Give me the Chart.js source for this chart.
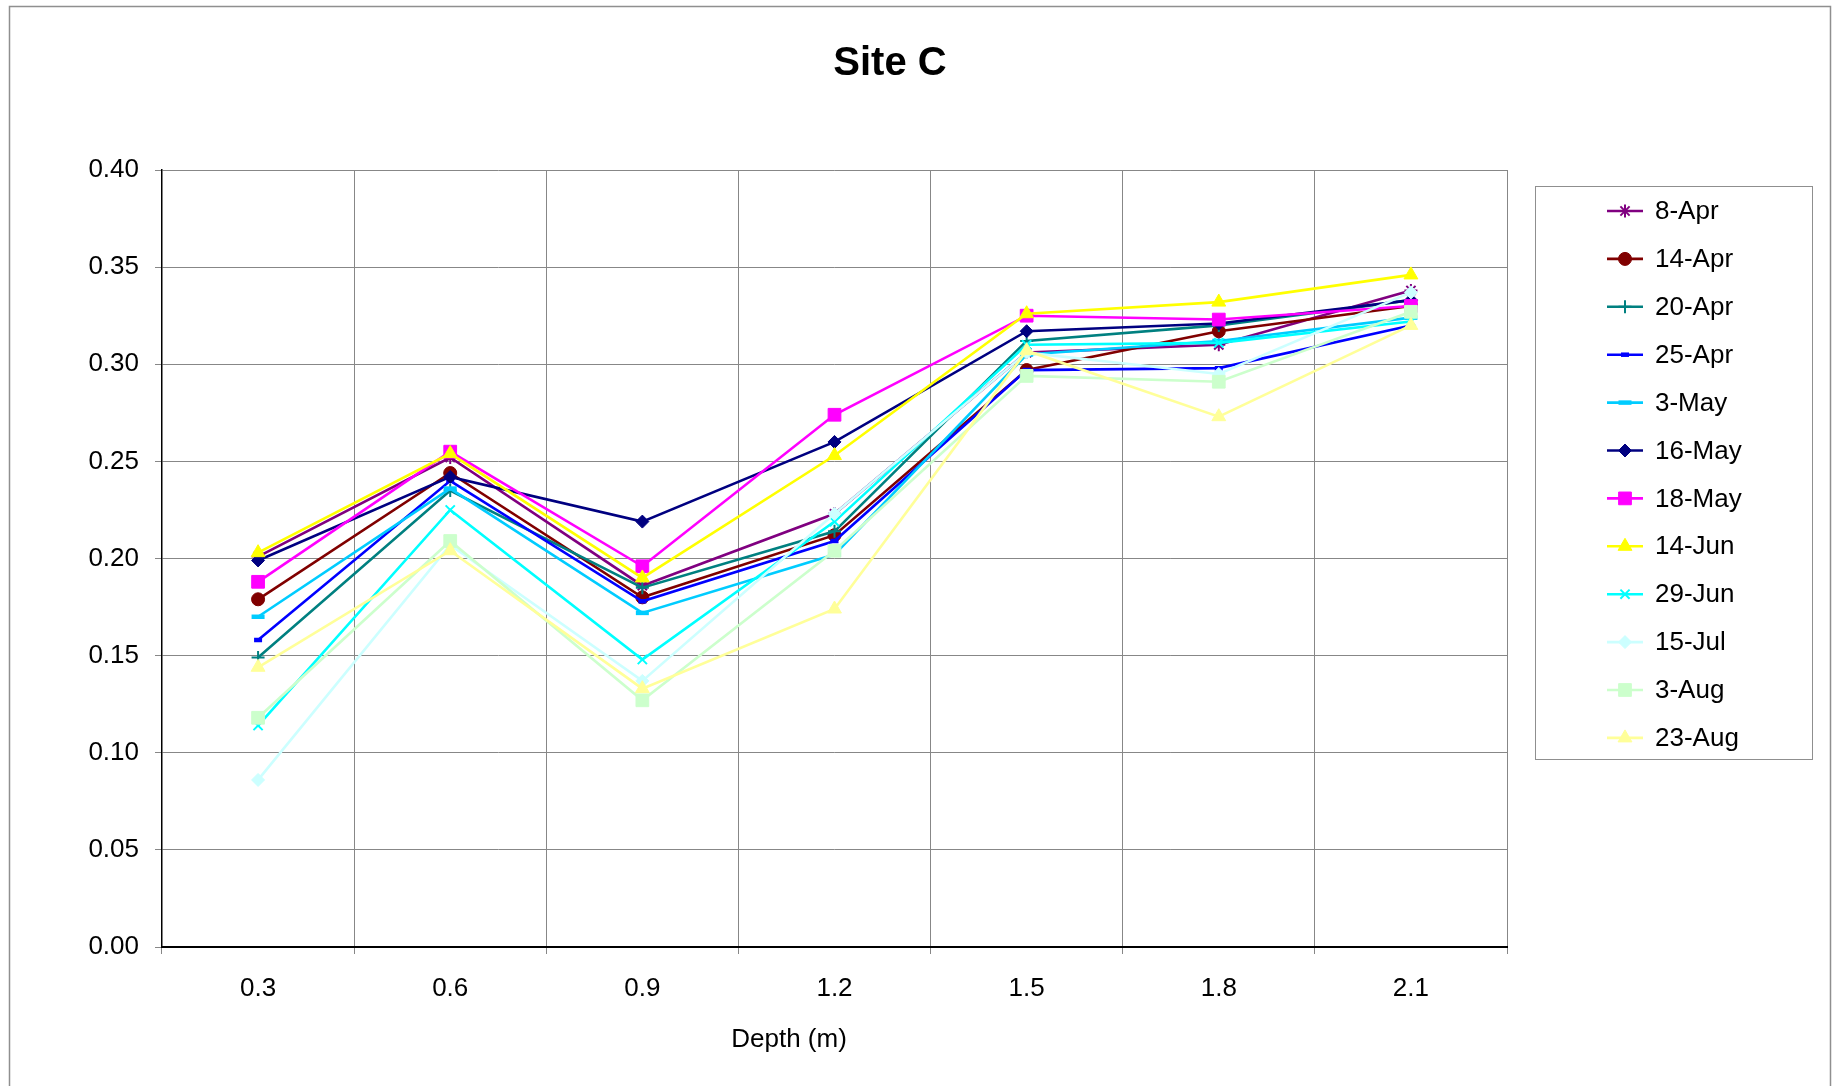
<!DOCTYPE html>
<html>
<head>
<meta charset="utf-8">
<title>Site C</title>
<script src="https://cdn.jsdelivr.net/npm/chart.js@4/dist/chart.umd.min.js"></script>
<style>
html, body { margin: 0; padding: 0; background: #fff; overflow: hidden; }
#wrap { width: 1843px; height: 1086px; position: relative; }
</style>
</head>
<body>
<div id="wrap"><canvas id="chart"></canvas></div>
<script>
const depths = ["0.3", "0.6", "0.9", "1.2", "1.5", "1.8", "2.1"];
const dates = ["8-Apr", "14-Apr", "20-Apr", "25-Apr", "3-May", "16-May",
	"18-May", "14-Jun", "29-Jun", "15-Jul", "3-Aug", "23-Aug"];

// moisture readings per sampling date, one value per depth
const apr8 = [0.201, 0.252, 0.186, 0.223, 0.306, 0.310, 0.338];
const apr14 = [0.179, 0.244, 0.180, 0.212, 0.297, 0.317, 0.330];
const apr20 = [0.149, 0.235, 0.185, 0.214, 0.312, 0.320, 0.333];
const apr25 = [0.158, 0.240, 0.178, 0.209, 0.297, 0.298, 0.320];
const may3 = [0.170, 0.236, 0.172, 0.202, 0.305, 0.312, 0.324];
const may16 = [0.199, 0.242, 0.219, 0.260, 0.317, 0.321, 0.333];
const may18 = [0.188, 0.255, 0.196, 0.274, 0.325, 0.323, 0.330];
const jun14 = [0.203, 0.254, 0.190, 0.253, 0.326, 0.332, 0.346];
const jun29 = [0.114, 0.225, 0.148, 0.219, 0.310, 0.311, 0.322];
const jul15 = [0.086, 0.207, 0.137, 0.223, 0.306, 0.295, 0.337];
const aug3 = [0.118, 0.209, 0.127, 0.204, 0.294, 0.291, 0.327];
const aug23 = [0.144, 0.204, 0.133, 0.174, 0.307, 0.273, 0.320];

const yMin = 0;
const yMax = 0.4;
const yStep = 0.05;

const series = [apr8, apr14, apr20, apr25, may3, may16, may18, jun14, jun29, jul15, aug3, aug23];
const colors = ["#800080", "#800000", "#008080", "#0000ff", "#00ccff", "#000080",
	"#ff00ff", "#ffff00", "#00ffff", "#ccffff", "#ccffcc", "#ffff99"];
const markers = ["star", "circle", "cross", "line", "line", "rectRot",
	"rect", "triangle", "crossRot", "rectRot", "rect", "triangle"];
const markerSize = [6.5, 6.5, 6.5, 4, 6.5, 6.5, 9, 8, 6.5, 6.5, 9, 8];
const markerBorder = [2, 1, 2, 4.5, 4.5, 1, 1, 1, 2, 1, 1, 1];

const FONT = "'Liberation Sans', Arial, sans-serif";
const gridGray = "#878787";

const datasets = series.map((values, i) => ({
	label: dates[i],
	data: values,
	borderColor: colors[i],
	backgroundColor: colors[i],
	borderWidth: 2.6,
	pointStyle: markers[i],
	pointRadius: markerSize[i],
	pointBorderWidth: markerBorder[i],
	pointBackgroundColor: colors[i],
	pointBorderColor: colors[i],
	tension: 0,
	fill: false,
	order: -i,
}));

// frame, title, axis title and the boxed legend on the right
const decor = {
	id: "decor",
	beforeDraw(chart) {
		const ctx = chart.ctx;
		ctx.save();
		ctx.fillStyle = "#fff";
		ctx.fillRect(0, 0, chart.width, chart.height);
		ctx.strokeStyle = "#8f8f8f";
		ctx.lineWidth = 1.5;
		ctx.strokeRect(9.5, 6.5, 1821, 1200);
		ctx.restore();
	},
	afterDraw(chart) {
		const ctx = chart.ctx;
		ctx.save();
		ctx.fillStyle = "#000";
		ctx.textAlign = "center";
		ctx.textBaseline = "middle";
		ctx.font = "bold 40px " + FONT;
		ctx.fillText("Site C", 890, 64);
		ctx.font = "26px " + FONT;
		ctx.fillText("Depth (m)", 789, 1040);

		ctx.strokeStyle = "#8f8f8f";
		ctx.lineWidth = 1;
		ctx.strokeRect(1535.5, 186.5, 277, 573);

		ctx.textAlign = "left";
		chart.data.datasets.forEach((ds, i) => {
			const y = 211 + i * 47.9;
			ctx.strokeStyle = ds.borderColor;
			ctx.lineWidth = 2.6;
			ctx.beginPath();
			ctx.moveTo(1607, y);
			ctx.lineTo(1643, y);
			ctx.stroke();
			ctx.fillStyle = ds.pointBackgroundColor;
			ctx.lineWidth = ds.pointBorderWidth;
			Chart.helpers.drawPoint(ctx, {
				pointStyle: ds.pointStyle,
				radius: ds.pointRadius,
				rotation: 0,
				borderWidth: ds.pointBorderWidth,
			}, 1625, y);
			ctx.fillStyle = "#000";
			ctx.fillText(ds.label, 1655, y + 1);
		});
		ctx.restore();
	},
};

const theChart = new Chart(document.getElementById("chart"), {
	type: "line",
	data: { labels: depths, datasets: datasets },
	options: {
		responsive: true,
		maintainAspectRatio: false,
		animation: false,
		layout: { padding: { top: 170, right: 336, left: 0, bottom: 0 } },
		plugins: {
			legend: { display: false },
			title: { display: false },
			tooltip: { enabled: false },
		},
		scales: {
			x: {
				type: "category",
				offset: true,
				grid: { offset: true, color: gridGray, lineWidth: 1, tickLength: 7 },
				border: { color: "#000", width: 2 },
				ticks: { color: "#000", font: { family: FONT, size: 26 }, padding: 19, maxRotation: 0 },
				afterFit(scale) { scale.height = 139; },
			},
			y: {
				min: yMin,
				max: yMax,
				grid: { color: gridGray, lineWidth: 1, tickLength: 7 },
				border: { color: "#000", width: 1.5 },
				ticks: {
					stepSize: yStep,
					color: "#000",
					font: { family: FONT, size: 26 },
					padding: 16,
					callback: (v) => Number(v).toFixed(2),
				},
				afterFit(scale) { scale.width = 162; },
			},
		},
	},
	plugins: [decor],
});
</script>
</body>
</html>
